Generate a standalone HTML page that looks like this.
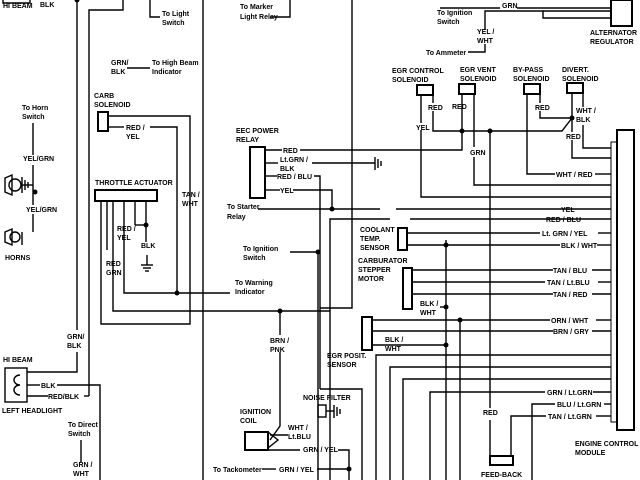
<!DOCTYPE html>
<html><head><meta charset="utf-8"><style>
html,body{margin:0;padding:0;background:#fff}
svg{display:block}
text{font-family:"Liberation Sans",sans-serif;font-size:7px;font-weight:bold;fill:#000}
</style></head><body>
<svg width="640" height="480" viewBox="0 0 640 480" xmlns="http://www.w3.org/2000/svg">
<g fill="none" stroke="#000" stroke-width="1.4">
<polyline points="3,0 3,3 30,3 30,0"/>
<line x1="77" y1="0" x2="77" y2="330"/>
<polyline points="89,396 89,10 123,10 123,0"/>
<polyline points="150,0 150,17 160,17"/>
<line x1="203" y1="0" x2="203" y2="480"/>
<polyline points="270,17 290,17 290,0"/>
<line x1="127" y1="68" x2="150" y2="68"/>
<rect x="98" y="112" width="10" height="19" stroke-width="2"/>
<polyline points="108,116 190,116 190,324 101,324 101,202"/>
<polyline points="108,127 124,127"/>
<polyline points="150,127 177,127 177,293"/>
<rect x="95" y="190" width="62" height="11" stroke-width="2"/>
<line x1="107" y1="202" x2="107" y2="250"/>
<polyline points="113,202 113,311 330,311"/>
<polyline points="124,202 124,293 230,293"/>
<line x1="135" y1="202" x2="135" y2="225"/>
<line x1="135" y1="225" x2="146" y2="225"/>
<line x1="146" y1="202" x2="146" y2="242"/>
<line x1="147" y1="255" x2="147" y2="265"/>
<line x1="141" y1="265" x2="153" y2="265"/>
<line x1="143" y1="268" x2="151" y2="268"/>
<line x1="145" y1="271" x2="149" y2="271"/>
<line x1="33" y1="123" x2="33" y2="155"/>
<line x1="33" y1="165" x2="33" y2="205"/>
<line x1="33" y1="214" x2="33" y2="232"/>
<polygon points="5,178 12,175 12,195 5,192"/>
<circle cx="15" cy="185" r="6"/>
<line x1="22" y1="177" x2="22" y2="193"/>
<line x1="25" y1="180" x2="25" y2="190"/>
<line x1="28" y1="182" x2="28" y2="188"/>
<polyline points="22,185 33,185"/>
<polygon points="5,232 12,229 12,245 5,242"/>
<circle cx="15" cy="237" r="5"/>
<line x1="22" y1="232" x2="22" y2="245"/>
<rect x="5" y="368" width="22" height="34"/>
<path d="M20,375 a6,5 0 1 0 0,10 M20,385 a6,5 0 1 0 0,10"/>
<polyline points="27,385 40,385"/>
<polyline points="57,385 100,385 100,480"/>
<polyline points="27,396 48,396"/>
<polyline points="84,396 89,396"/>
<polyline points="27,372 77,372 77,352"/>
<line x1="81" y1="440" x2="81" y2="462"/>
<rect x="250" y="147" width="15" height="51" stroke-width="2"/>
<polyline points="265,150 282,150"/><polyline points="300,150 462,150 462,95"/>
<polyline points="265,163 278,163"/><polyline points="312,163 375,163"/>
<line x1="375" y1="157" x2="375" y2="170"/><line x1="378" y1="159" x2="378" y2="168"/><line x1="381" y1="161" x2="381" y2="166"/>
<polyline points="265,176 277,176"/><polyline points="314,176 320,176 320,389"/>
<polyline points="265,190 280,190"/><polyline points="293,190 332,190 332,209"/>
<polyline points="258,209 380,209"/><line x1="396" y1="209" x2="611" y2="209"/>
<polyline points="290,252 318,252 318,480"/>
<polyline points="330,480 330,219 390,219"/><line x1="410" y1="219" x2="611" y2="219"/>
<line x1="280" y1="311" x2="280" y2="335"/>
<polyline points="280,352 280,426 270,440"/>
<polyline points="352,0 352,308 320,308"/>
<rect x="611" y="0" width="21" height="26" stroke-width="2"/>
<polyline points="440,8 500,8"/><line x1="517" y1="8" x2="611" y2="8"/>
<polyline points="485,30 485,11 543,11 543,18 611,18"/>
<line x1="543" y1="11" x2="611" y2="11"/>
<polyline points="468,52 485,52 485,44"/>
<rect x="417" y="85" width="16" height="10" stroke-width="2"/>
<rect x="459" y="84" width="16" height="10" stroke-width="2"/>
<rect x="524" y="84" width="16" height="10" stroke-width="2"/>
<rect x="567" y="83" width="16" height="10" stroke-width="2"/>
<polyline points="421,95 421,123"/><polyline points="421,130 421,197 611,197"/>
<polyline points="433,95 433,103"/><polyline points="433,111 433,131 562,131 572,118"/>
<polyline points="474,94 474,147"/><polyline points="474,157 474,185 611,185"/>
<line x1="490" y1="131" x2="490" y2="408"/>
<polyline points="527,94 527,174 555,174"/><line x1="595" y1="174" x2="611" y2="174"/>
<polyline points="540,94 540,103"/><polyline points="540,111 540,118 572,118"/>
<polyline points="572,93 572,132"/><polyline points="572,140 572,158 611,158"/>
<polyline points="583,93 583,107"/><polyline points="583,125 583,148 611,148"/>
<rect x="617" y="130" width="17" height="300" stroke-width="2"/>
<rect x="611" y="142" width="6" height="280" stroke-width="1"/>
<rect x="398" y="228" width="9" height="22" stroke-width="2"/>
<line x1="407" y1="233" x2="540" y2="233"/><line x1="598" y1="233" x2="611" y2="233"/>
<line x1="407" y1="245" x2="560" y2="245"/><line x1="597" y1="245" x2="611" y2="245"/>
<rect x="403" y="268" width="9" height="41" stroke-width="2"/>
<line x1="412" y1="270" x2="553" y2="270"/><line x1="592" y1="270" x2="611" y2="270"/>
<line x1="412" y1="282" x2="545" y2="282"/><line x1="598" y1="282" x2="611" y2="282"/>
<line x1="412" y1="294" x2="553" y2="294"/><line x1="592" y1="294" x2="611" y2="294"/>
<line x1="440" y1="307" x2="446" y2="307"/>
<rect x="362" y="317" width="10" height="33" stroke-width="2"/>
<line x1="372" y1="320" x2="550" y2="320"/><line x1="596" y1="320" x2="611" y2="320"/>
<line x1="372" y1="331" x2="553" y2="331"/><line x1="592" y1="331" x2="611" y2="331"/>
<line x1="372" y1="345" x2="446" y2="345"/>
<line x1="446" y1="240" x2="446" y2="480"/>
<line x1="460" y1="320" x2="460" y2="480"/>
<polyline points="376,480 376,355 611,355"/>
<polyline points="390,480 390,367 611,367"/>
<polyline points="403,480 403,379 611,379"/>
<polyline points="430,480 430,392 545,392"/><line x1="593" y1="392" x2="611" y2="392"/>
<polyline points="532,480 532,404 555,404"/><line x1="604" y1="404" x2="611" y2="404"/>
<polyline points="511,456 511,416 546,416"/><line x1="596" y1="416" x2="611" y2="416"/>
<line x1="490" y1="420" x2="490" y2="456"/>
<rect x="490" y="456" width="23" height="9" stroke-width="2"/>
<polyline points="362,480 362,389 320,389"/>
<rect x="245" y="432" width="23" height="18" stroke-width="2"/>
<polyline points="268,432 278,440 268,448"/>
<polyline points="270,435 288,435"/>
<line x1="268" y1="450" x2="300" y2="450"/>
<rect x="318" y="405" width="8" height="12"/>
<line x1="326" y1="411" x2="334" y2="411"/>
<line x1="334" y1="405" x2="334" y2="418"/><line x1="337" y1="407" x2="337" y2="416"/><line x1="340" y1="409" x2="340" y2="414"/>
<polyline points="338,450 349,450 349,480"/>
<polyline points="262,469 276,469"/><polyline points="317,469 349,469"/>
</g>
<g fill="#000">
<circle cx="77" cy="0" r="2.5"/>
<circle cx="146" cy="225" r="2.5"/><circle cx="177" cy="293" r="2.5"/><circle cx="280" cy="311" r="2.5"/>
<circle cx="35" cy="192" r="2.5"/><circle cx="318" cy="252" r="2.5"/><circle cx="332" cy="209" r="2.5"/>
<circle cx="462" cy="131" r="2.5"/><circle cx="490" cy="131" r="2.5"/><circle cx="572" cy="118" r="2.5"/>
<circle cx="446" cy="245" r="2.5"/><circle cx="446" cy="307" r="2.5"/><circle cx="446" cy="345" r="2.5"/>
<circle cx="460" cy="320" r="2.5"/><circle cx="349" cy="469" r="2.5"/>
</g>
<text x="3" y="8">HI BEAM</text><text x="40" y="7">BLK</text>
<text x="162" y="16">To Light</text><text x="162" y="25">Switch</text>
<text x="240" y="9">To Marker</text><text x="240" y="19">Light Relay</text>
<text x="111" y="65">GRN/</text><text x="111" y="74">BLK</text>
<text x="152" y="65">To High Beam</text><text x="152" y="74">Indicator</text>
<text x="94" y="98">CARB</text><text x="94" y="107">SOLENOID</text>
<text x="126" y="130">RED /</text><text x="126" y="139">YEL</text>
<text x="95" y="185">THROTTLE ACTUATOR</text>
<text x="182" y="197">TAN /</text><text x="182" y="206">WHT</text>
<text x="117" y="231">RED /</text><text x="117" y="240">YEL</text>
<text x="141" y="248">BLK</text>
<text x="106" y="266">RED</text><text x="106" y="275">GRN</text>
<text x="22" y="110">To Horn</text><text x="22" y="119">Switch</text>
<text x="23" y="161">YEL/GRN</text><text x="26" y="212">YEL/GRN</text>
<text x="5" y="260">HORNS</text>
<text x="67" y="339">GRN/</text><text x="67" y="348">BLK</text>
<text x="3" y="362">HI BEAM</text>
<text x="41" y="388">BLK</text><text x="48" y="399">RED/BLK</text>
<text x="2" y="413">LEFT HEADLIGHT</text>
<text x="68" y="427">To Direct</text><text x="68" y="436">Switch</text>
<text x="73" y="467">GRN /</text><text x="73" y="476">WHT</text>
<text x="236" y="133">EEC POWER</text><text x="236" y="142">RELAY</text>
<text x="283" y="153">RED</text>
<text x="280" y="162">Lt.GRN /</text><text x="280" y="171">BLK</text>
<text x="277" y="179">RED / BLU</text><text x="280" y="193">YEL</text>
<text x="227" y="209">To Starter</text><text x="227" y="219">Relay</text>
<text x="243" y="251">To Ignition</text><text x="243" y="260">Switch</text>
<text x="235" y="285">To Warning</text><text x="235" y="294">Indicator</text>
<text x="270" y="343">BRN /</text><text x="270" y="352">PNK</text>
<text x="240" y="414">IGNITION</text><text x="240" y="423">COIL</text>
<text x="288" y="430">WHT /</text><text x="288" y="439">Lt.BLU</text>
<text x="303" y="400">NOISE FILTER</text>
<text x="303" y="452">GRN / YEL</text>
<text x="213" y="472">To Tackometer</text><text x="279" y="472">GRN / YEL</text>
<text x="502" y="8">GRN</text>
<text x="437" y="15">To Ignition</text><text x="437" y="24">Switch</text>
<text x="477" y="34">YEL /</text><text x="477" y="43">WHT</text>
<text x="426" y="55">To Ammeter</text>
<text x="590" y="35">ALTERNATOR</text><text x="590" y="44">REGULATOR</text>
<text x="392" y="73">EGR CONTROL</text><text x="392" y="82">SOLENOID</text>
<text x="460" y="72">EGR VENT</text><text x="460" y="81">SOLENOID</text>
<text x="513" y="72">BY-PASS</text><text x="513" y="81">SOLENOID</text>
<text x="562" y="72">DIVERT.</text><text x="562" y="81">SOLENOID</text>
<text x="428" y="110">RED</text><text x="452" y="109">RED</text>
<text x="416" y="130">YEL</text><text x="535" y="110">RED</text>
<text x="576" y="113">WHT /</text><text x="576" y="122">BLK</text>
<text x="566" y="139">RED</text><text x="470" y="155">GRN</text>
<text x="556" y="177">WHT / RED</text>
<text x="561" y="212">YEL</text><text x="546" y="222">RED / BLU</text>
<text x="542" y="236">Lt. GRN / YEL</text><text x="561" y="248">BLK / WHT</text>
<text x="360" y="232">COOLANT</text><text x="360" y="241">TEMP.</text><text x="360" y="250">SENSOR</text>
<text x="358" y="263">CARBURATOR</text><text x="358" y="272">STEPPER</text><text x="358" y="281">MOTOR</text>
<text x="553" y="273">TAN / BLU</text><text x="547" y="285">TAN / Lt.BLU</text><text x="553" y="297">TAN / RED</text>
<text x="420" y="306">BLK /</text><text x="420" y="315">WHT</text>
<text x="551" y="323">ORN / WHT</text><text x="553" y="334">BRN / GRY</text>
<text x="385" y="342">BLK /</text><text x="385" y="351">WHT</text>
<text x="327" y="358">EGR POSIT.</text><text x="327" y="367">SENSOR</text>
<text x="547" y="395">GRN / Lt.GRN</text><text x="557" y="407">BLU / Lt.GRN</text><text x="548" y="419">TAN / Lt.GRN</text>
<text x="483" y="415">RED</text>
<text x="575" y="446">ENGINE CONTROL</text><text x="575" y="455">MODULE</text>
<text x="481" y="477">FEED-BACK</text>
</svg>
</body></html>
